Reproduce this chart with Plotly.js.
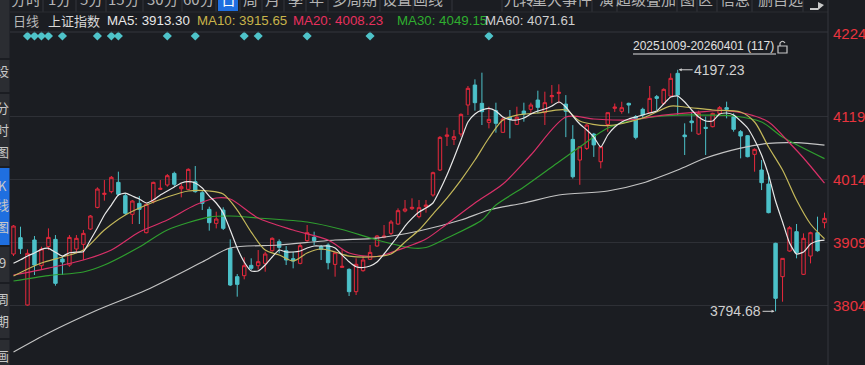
<!DOCTYPE html>
<html><head><meta charset="utf-8">
<script src="https://cdn.plot.ly/plotly-3.0.1.min.js"></script>
<style>html,body{margin:0;padding:0;background:#1b1d22;overflow:hidden}#chart{width:865px;height:365px}</style>
</head><body><div id="chart"></div>
<script>
// ---------- data ----------
const openV = [3890.2,3917.4,3805.2,3913.5,3870.7,3902.4,3914.6,3881.8,3871.8,3898.5,3906.3,3931.8,3967.9,3989.6,3994.1,4009.6,3987.4,3956.3,3974.6,3925.7,3977.4,3998.0,4005.2,4024.6,3999.0,3997.9,4010.7,3992.4,3964.6,3941.3,3963.5,3899.6,3852.4,3854.1,3871.3,3870.7,3874.6,3895.7,3910.7,3895.7,3882.4,3874.6,3912.4,3918.0,3902.4,3905.2,3872.9,3867.9,3864.6,3827.4,3862.4,3881.3,3903.5,3918.0,3924.6,3940.2,3961.8,3965.7,3952.4,3969.0,3988.5,4030.2,4086.3,4081.3,4090.2,4138.5,4171.8,4141.3,4109.6,4129.1,4093.0,4118.0,4106.3,4128.5,4131.3,4146.8,4125.7,4152.4,4157.9,4140.0,4081.2,4046.8,4066.2,4090.0,4044.0,4106.2,4133.0,4128.0,4141.3,4119.1,4131.3,4125.7,4152.4,4141.3,4153.5,4191.3,4088.5,4111.9,4090.2,4101.3,4102.4,4124.6,4134.1,4119.1,4094.1,4087.4,4056.3,4030.2,4006.8,3908.0,3852.4,3895.2,3927.4,3856.3,3886.8,3925.7,3942.4];
const highV = [3938.5,3935.7,3897.9,3920.2,3902.4,3932.9,3921.8,3885.2,3921.8,3921.8,3930.2,3955.2,4001.3,4013.5,4020.2,4027.4,3991.3,3980.2,3986.8,3974.6,4010.7,4013.5,4023.5,4027.4,4008.0,4033.0,4036.8,3995.7,3969.0,3960.7,3968.0,3914.6,3856.8,3884.6,3883.0,3896.8,3894.1,3918.0,3914.6,3903.5,3894.1,3908.0,3938.5,3927.4,3905.2,3908.0,3894.1,3898.0,3866.3,3883.0,3886.8,3905.2,3921.8,3938.5,3946.8,3966.3,3980.2,3983.0,3980.2,3980.2,4027.4,4086.8,4100.7,4096.8,4124.6,4170.2,4181.3,4192.4,4135.7,4142.4,4118.0,4130.2,4135.7,4142.4,4142.4,4162.4,4160.7,4171.8,4173.0,4155.0,4105.0,4070.2,4106.8,4092.0,4069.0,4125.7,4141.0,4144.0,4142.4,4121.8,4134.0,4170.2,4155.2,4166.3,4191.3,4197.23,4108.0,4127.4,4129.1,4119.1,4125.7,4136.8,4144.1,4124.6,4096.8,4088.5,4066.3,4046.8,4024.6,3909.0,3882.9,3936.8,3940.2,3924.6,3927.4,3952.4,3959.1];
const lowV = [3886.8,3890.2,3804.1,3855.2,3863.5,3896.8,3837.4,3855.2,3869.0,3891.3,3880.2,3930.2,3966.3,3979.1,3991.3,3986.8,3955.2,3940.2,3940.2,3924.6,3974.6,3996.8,4002.4,4002.4,3984.6,3996.8,3992.4,3963.5,3929.1,3932.9,3930.2,3836.8,3819.1,3848.0,3863.5,3864.6,3860.7,3894.1,3891.3,3871.8,3866.3,3873.0,3910.7,3905.2,3880.2,3864.6,3852.4,3867.4,3820.2,3821.8,3860.7,3880.2,3902.4,3916.3,3921.8,3938.5,3959.6,3963.5,3949.6,3959.1,3985.7,4028.5,4070.2,4071.8,4085.7,4121.8,4129.1,4105.2,4099.6,4092.4,4092.4,4083.0,4105.2,4110.7,4125.7,4124.6,4105.2,4141.3,4141.3,4085.0,4016.0,4005.5,4063.5,4052.0,4032.9,4094.0,4127.0,4124.0,4124.6,4081.3,4115.0,4124.6,4130.2,4138.5,4152.4,4121.8,4055.2,4094.0,4088.5,4055.2,4101.3,4121.8,4116.3,4094.1,4049.6,4051.3,4027.4,3996.8,3958.0,3794.68,3810.7,3894.1,3883.0,3855.2,3874.6,3894.1,3933.0];
const closeV = [3936.8,3899.0,3891.3,3871.8,3898.5,3917.9,3841.3,3876.8,3917.9,3916.3,3924.6,3953.5,3998.5,3991.3,4018.0,3989.6,3958.0,3978.5,3964.6,3973.0,4009.6,3999.6,4020.7,4006.3,4002.4,4031.3,3994.1,3974.6,3942.4,3948.5,3933.0,3838.5,3839.6,3870.7,3866.3,3877.4,3890.2,3916.3,3901.3,3880.2,3878.5,3904.1,3925.7,3912.4,3898.0,3875.7,3892.4,3869.6,3827.4,3873.0,3880.2,3892.9,3920.2,3920.2,3943.5,3962.4,3965.2,3968.0,3967.4,3971.8,4025.7,4084.6,4088.5,4085.7,4122.9,4166.3,4142.4,4127.4,4114.6,4108.0,4115.2,4114.6,4118.0,4123.5,4138.5,4134.6,4142.4,4154.1,4159.6,4128.0,4019.0,4069.0,4105.1,4072.0,4069.0,4125.7,4135.0,4134.0,4138.5,4084.6,4121.8,4149.6,4149.6,4164.6,4183.0,4155.2,4085.7,4109.1,4124.6,4099.6,4124.6,4134.1,4131.3,4098.0,4086.8,4052.4,4064.6,4009.1,3959.1,3816.3,3882.9,3934.0,3892.4,3916.3,3925.7,3895.7,3949.6];

const ma5Val = [3874.7,3880.5,3886.8,3892.0,3898.0,3899.7,3893.0,3886.8,3892.3,3893.5,3894.0,3913.5,3933.5,3955.2,3971.8,3988.5,3991.8,3986.8,3981.8,3975.2,3980.2,3988.5,3995.2,4001.8,4008.5,4010.7,4008.5,4000.2,3986.8,3975.2,3958.5,3930.2,3900.2,3876.8,3861.8,3861.8,3871.8,3885.2,3896.8,3893.5,3893.5,3895.2,3900.2,3903.5,3903.5,3903.5,3900.2,3888.5,3877.3,3869.0,3867.7,3870.2,3876.8,3890.2,3905.2,3920.2,3936.8,3949.7,3960.2,3966.8,3975.2,3996.8,4021.8,4050.2,4080.2,4110.2,4123.5,4130.2,4133.0,4128.5,4118.5,4114.3,4113.5,4116.8,4123.5,4128.5,4131.8,4136.8,4143.5,4135.2,4120.2,4106.8,4096.8,4085.2,4068.5,4088.5,4101.8,4110.2,4115.2,4118.5,4121.8,4125.2,4128.5,4140.2,4151.8,4153.5,4143.5,4130.2,4118.5,4111.8,4111.8,4123.5,4125.2,4121.8,4111.8,4100.2,4080.2,4055.2,4021.8,3978.5,3943.5,3908.5,3890.2,3893.5,3906.8,3911.8,3913.30];

const ma10Idx = [0,4,7,10,13,16,19,22,25,28,30,32,34,36,38,40,42,44,46,48,51,54,56,58,60,62,64,66,68,70,72,75,79,81,85,90,94,96,100,104,106,108,110,112,114,116];
const ma10Val = [3853.5,3875.2,3885.2,3896.8,3930.2,3955.2,3971.8,3985.2,3995.2,3995.2,3990.2,3963.5,3926.8,3896.8,3888.5,3878.5,3891.8,3898.5,3893.5,3886.8,3885.2,3890.2,3910.2,3930.2,3956.8,3983.5,4013.5,4046.8,4083.5,4113.5,4121.8,4125.2,4130.2,4111.8,4104.3,4116.8,4136.8,4135.2,4130.2,4126.8,4110.2,4068.5,4030.2,3980.2,3940.2,3915.65];

const ma20Idx = [0,5,10,14,18,22,26,29,31,35,40,45,48,52,55,59,62,66,70,74,79,83,88,93,98,102,105,108,111,113,116];
const ma20Val = [3855.2,3866.8,3880.2,3896.8,3926.8,3946.8,3971.8,3983.5,3981.8,3950.2,3930.2,3913.5,3891.8,3886.0,3896.8,3915.2,3940.2,3975.2,4006.8,4055.2,4118.5,4115.2,4113.5,4121.8,4126.8,4129.3,4123.5,4110.2,4075.2,4050.2,4008.23];

const ma30Idx = [0,5,10,13,18,22,28,31,35,42,47,52,57,59,62,67,69,73,77,81,85,90,95,99,103,107,110,116];
const ma30Val = [3845.2,3854.3,3860.2,3871.8,3901.8,3930.2,3951.8,3953.5,3950.2,3943.5,3931.0,3913.5,3900.2,3901.0,3916.8,3946.8,3971.8,4001.8,4035.2,4068.5,4100.2,4116.3,4121.8,4121.8,4120.2,4110.2,4085.2,4049.15];

const ma60Idx = [0,5,12,19,27,31,38,46,52,58,64,68,73,78,85,90,95,99,104,108,112,116];
const ma60Val = [3726.8,3758.5,3796.8,3830.2,3876.8,3900.2,3905.2,3913.5,3916.8,3928.5,3946.8,3963.5,3975.2,3988.5,3995.2,4008.5,4030.2,4050.2,4066.8,4074.7,4075.7,4071.61];

const eventIdx = [2,3,4,5,7,12,14,15,22,26,33,35,42,51,68];
const yTicks = [4224,4119,4014,3909,3804];
const maNames = ['MA5','MA10','MA20','MA30','MA60'];
const maLast = ['3913.30','3915.65','4008.23','4049.15','4071.61'];
const hiLabel = '4197.23', loLabel = '3794.68';
const rangeLabel = '20251009-20260401 (117)';
const toolbarTabs = ['分时','1分','5分','15分','30分','60分','日','周','月','季','年','多周期','设置','画线','九转','重大事件','演','超级叠加','图','区','信息','删自选'];
const sideLabels = ['设','分','时','图','K','线','图','9','周','期','画'];

// ---------- layout helpers (pixel -> paper) ----------
const L=10, R=828, T=32, B=365;
const px = x => (x-L)/(R-L);
const py = y => (B-y)/(B-T);
const idx = openV.map((_,i)=>i);
const hiI = highV.indexOf(Math.max(...highV));
const loI = lowV.indexOf(Math.min(...lowV));

const RED='#e8283c', CYAN='#4cc1c9';
const maColors = ['#e8e8e8','#c4b85a','#d93068','#2f9e2f','#c4c4c4'];
const maTextColors = ['#e8e8e8','#c8b44a','#e8305e','#2fae2f','#d0d0d0'];
const FONT = 'Liberation Sans, Arial, Noto Sans CJK SC, sans-serif';
const CJK = 'Noto Sans CJK SC, sans-serif';

const traces = [
  {type:'candlestick', x:idx, open:openV, high:highV, low:lowV, close:closeV,
   increasing:{line:{color:RED,width:1}, fillcolor:'rgba(0,0,0,0)'},
   decreasing:{line:{color:CYAN,width:1}, fillcolor:CYAN},
   whiskerwidth:0, hoverinfo:'skip', showlegend:false},
  {type:'scatter', mode:'lines', x:ma60Idx, y:ma60Val, line:{color:maColors[4],width:1.2,shape:'spline',smoothing:0.8}, hoverinfo:'skip'},
  {type:'scatter', mode:'lines', x:ma30Idx, y:ma30Val, line:{color:maColors[3],width:1.2,shape:'spline',smoothing:0.8}, hoverinfo:'skip'},
  {type:'scatter', mode:'lines', x:ma20Idx, y:ma20Val, line:{color:maColors[2],width:1.2,shape:'spline',smoothing:0.8}, hoverinfo:'skip'},
  {type:'scatter', mode:'lines', x:ma10Idx, y:ma10Val, line:{color:maColors[1],width:1.2,shape:'spline',smoothing:0.8}, hoverinfo:'skip'},
  {type:'scatter', mode:'lines', x:idx, y:ma5Val, line:{color:maColors[0],width:1.2,shape:'spline',smoothing:0.5}, hoverinfo:'skip'},
  {type:'scatter', mode:'markers', x:eventIdx, y:eventIdx.map(()=>py(36)), yaxis:'y2',
   marker:{symbol:'diamond',size:7,color:'#4ec3c9'}, cliponaxis:false, hoverinfo:'skip'}
];

const ann = [];
const shapes = [];
// right axis labels
yTicks.forEach(v=>{
  const top = v===yTicks[0];
  ann.push({xref:'paper', x:px(831), xanchor:'left', yref: top?'paper':'y', y: top?py(33):v, yanchor:'middle',
    text:String(v), showarrow:false, font:{family:FONT,size:15,color:'#e8343e'}});
});
// MA legend row
ann.push({xref:'paper',yref:'paper',x:px(11),y:py(21),xanchor:'left',yanchor:'middle',showarrow:false,text:'日线',font:{family:CJK,size:13,color:'#b8b8b8'}});
ann.push({xref:'paper',yref:'paper',x:px(46),y:py(21),xanchor:'left',yanchor:'middle',showarrow:false,text:'上证指数',font:{family:CJK,size:13,color:'#d8d8d8'}});
const maX=[105,195,291,395,483];
maNames.forEach((n,k)=>ann.push({xref:'paper',yref:'paper',x:px(maX[k]),y:py(21),xanchor:'left',yanchor:'middle',showarrow:false,
  text:n+': '+maLast[k],font:{family:FONT,size:13.3,color:maTextColors[k]}}));
// range label
ann.push({xref:'paper',yref:'paper',x:px(776),y:py(46),xanchor:'right',yanchor:'middle',showarrow:false,text:rangeLabel,font:{family:FONT,size:12,color:'#e0e0e0'}});
shapes.push({type:'line',xref:'paper',yref:'paper',x0:px(633),x1:px(776),y0:py(54),y1:py(54),line:{color:'#e0e0e0',width:1}});
// lock icon
shapes.push({type:'rect',xref:'paper',yref:'paper',x0:px(778),x1:px(787),y0:py(53),y1:py(46),line:{color:'#c8c8c8',width:1.2},fillcolor:'rgba(0,0,0,0)'});
shapes.push({type:'path',xref:'paper',yref:'paper',path:`M ${px(780)} ${py(46)} L ${px(780)} ${py(43)} Q ${px(782.5)} ${py(39.5)} ${px(785)} ${py(43)}`,line:{color:'#c8c8c8',width:1.2}});
// high / low labels
ann.push({x:hiI,y:highV[hiI],xref:'x',yref:'y',text:hiLabel,showarrow:true,ax:42,ay:0,arrowhead:2,arrowsize:0.6,arrowwidth:1,arrowcolor:'#d0d0d0',standoff:1,font:{family:FONT,size:14,color:'#d0d0d0'}});
ann.push({x:loI,y:lowV[loI],xref:'x',yref:'y',text:loLabel,showarrow:true,ax:-40,ay:0,arrowhead:2,arrowsize:0.6,arrowwidth:1,arrowcolor:'#d0d0d0',standoff:1,font:{family:FONT,size:14,color:'#d0d0d0'}});
// toolbar
const tabX=[26,59,91,124,163,199,228,250,272,295,316,354,397,428,519,562,606,646,687,705,735,780];
toolbarTabs.forEach((t,k)=>ann.push({xref:'paper',yref:'paper',x:px(tabX[k]),y:py(-1.5),xanchor:'center',yanchor:'middle',showarrow:false,
  text:t,font:{family:CJK,size:15,color: t==='日'?'#ffffff':'#b4b4b4'}}));
shapes.push({type:'rect',xref:'paper',yref:'paper',x0:px(218),x1:px(238),y0:py(0),y1:py(11),fillcolor:'#1f6fe0',line:{width:0},layer:'below'});
const divX=[43,76,106,143,182,216,240,262,284,306,328,380,413,452,502,533,592,617,677,697,717,752,803];
divX.forEach(x=>shapes.push({type:'line',xref:'paper',yref:'paper',x0:px(x),x1:px(x),y0:py(0),y1:py(12),line:{color:'#34363c',width:1}}));
// icon top-right
shapes.push({type:'path',xref:'paper',yref:'paper',path:`M ${px(810)} ${py(8)} L ${px(818)} ${py(8)} L ${px(818)} ${py(2)} L ${px(824)} ${py(5)} L ${px(818)} ${py(10)} L ${px(810)} ${py(10)} Z`,fillcolor:'#c8c8c8',line:{width:0}});
// header separators
shapes.push({type:'line',xref:'paper',yref:'paper',x0:px(10),x1:px(828),y0:py(32),y1:py(32),line:{color:'#34363c',width:1}});
shapes.push({type:'line',xref:'paper',yref:'paper',x0:px(10),x1:px(828),y0:py(12),y1:py(12),line:{color:'#2a2c31',width:1}});
shapes.push({type:'line',xref:'paper',yref:'paper',x0:1,x1:1,y0:py(365),y1:py(0),line:{color:'#34363c',width:1}});
// left sidebar
const side=[[0,58,'#2b2d32'],[60,92,'#2b2d32'],[94,166,'#2b2d32'],[168,245,'#1f6fe0'],[247,282,'#2b2d32'],[284,338,'#2b2d32'],[340,365,'#2b2d32']];
side.forEach(s=>shapes.push({type:'rect',xref:'paper',yref:'paper',x0:px(0),x1:px(9.5),y0:py(s[0]),y1:py(s[1]),fillcolor:s[2],line:{width:0}}));
const sideY=[70,107,129,151,185,205,226,262,298,320,355];
sideLabels.forEach((s,k)=>ann.push({xref:'paper',yref:'paper',x:px(2),y:py(sideY[k]),xanchor:'center',yanchor:'middle',showarrow:false,text:s,
  font:{family:CJK,size:13,color:'#c8c8c8'}}));

const layout = {
  width:865, height:365, margin:{l:L,r:865-R,t:T,b:0,pad:0},
  paper_bgcolor:'#1b1d22', plot_bgcolor:'#1b1d22', showlegend:false, hovermode:false,
  xaxis:{range:[-0.5,116.5], showgrid:false, zeroline:false, showticklabels:false, ticks:'', rangeslider:{visible:false}, fixedrange:true},
  yaxis:{range:[3705.2,4260.2], side:'right', tickvals:yTicks.slice(1), showticklabels:false, ticks:'', gridcolor:'#2e3036', gridwidth:1, zeroline:false, fixedrange:true},
  yaxis2:{range:[0,1], overlaying:'y', visible:false, fixedrange:true},
  annotations:ann, shapes:shapes
};
Plotly.newPlot('chart', traces, layout, {staticPlot:true, displayModeBar:false});
</script></body></html>
